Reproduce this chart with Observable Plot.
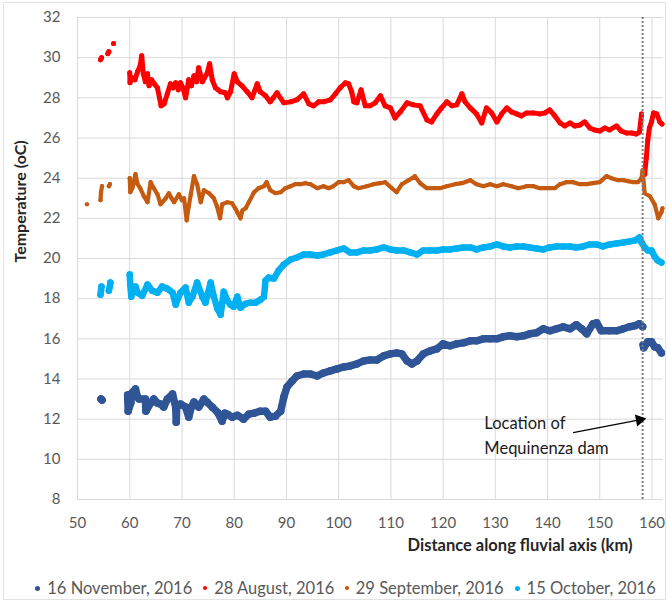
<!DOCTYPE html>
<html><head><meta charset="utf-8">
<script src="https://cdn.jsdelivr.net/npm/d3@7"></script>
<script src="https://cdn.jsdelivr.net/npm/@observablehq/plot@0.6"></script>
<style>
body{margin:0;background:#fff;font-family:Lato,sans-serif;}
#wrap{position:relative;width:668px;height:601px;overflow:hidden;}
#border{position:absolute;left:3px;top:2px;width:661px;height:596px;border:1px solid #e3e3e3;pointer-events:none;}
#legend{display:flex;align-items:center;justify-content:center;padding-left:34px;margin-top:10px;height:26px;font-size:16.5px;color:#595959;white-space:nowrap;}
#legend .it{display:flex;align-items:center;margin-right:11px;}
#legend .dot{display:inline-block;border-radius:50%;margin-right:7px;}
</style></head><body>
<div id="wrap"><div id="border"></div><div id="chart"></div><div id="legend"></div></div>
<script>
// ---- series (null = gap in the recorded track) ----
const seriesNames = ["16 November, 2016", "28 August, 2016", "29 September, 2016", "15 October, 2016"];
const seriesColors = ["#2f5597", "#ff0000", "#c55a11", "#00b0f0"];

const novKm = [54.5,54.7,null,
 59.6,59.7,60.2,60.4,61.1,61.5,61.8,63.0,63.1,64.0,64.6,65.3,65.9,66.5,67.2,68.2,68.8,68.9,69.0,69.7,70.7,71.3,71.8,72.3,73.2,74.2,74.8,75.8,76.8,77.7,78.2,78.7,79.6,80.6,81.8,82.8,83.8,85.0,86.0,86.9,87.9,88.9,89.5,90.1,91.1,92.0,93.3,94.6,95.9,97.1,98.4,99.7,101.0,102.2,103.5,104.8,106.0,107.3,108.6,109.9,111.1,112.1,113.1,114.0,115.0,116.2,117.5,118.8,120.0,121.3,122.6,123.9,125.2,126.4,127.7,129.0,130.3,131.5,132.8,134.1,135.4,136.6,137.9,139.2,140.4,141.7,143.0,144.3,145.5,146.5,147.5,148.7,149.4,150.3,151.9,153.2,154.5,155.7,156.7,157.6,158.2,null,
 158.3,158.4,159.2,159.9,160.5,161.1,161.8];
const novT = [13.0,12.95,null,
 13.2,12.4,12.8,13.3,13.5,13.1,13.0,13.0,12.4,12.8,13.0,12.8,12.75,12.6,13.0,13.25,12.6,11.85,12.6,12.75,12.6,12.1,12.6,12.85,12.6,13.0,12.85,12.6,12.35,11.9,12.3,12.25,12.1,12.2,12.0,12.25,12.3,12.4,12.4,12.1,12.15,12.4,13.1,13.6,13.9,14.15,14.25,14.25,14.15,14.3,14.4,14.5,14.6,14.65,14.75,14.9,14.95,14.95,15.15,15.25,15.3,15.25,14.9,14.75,14.9,15.25,15.4,15.5,15.75,15.65,15.75,15.8,15.9,15.9,16.0,16.0,16.0,16.1,16.15,16.1,16.15,16.25,16.3,16.5,16.4,16.5,16.6,16.5,16.7,16.5,16.25,16.75,16.8,16.4,16.4,16.4,16.5,16.6,16.65,16.75,16.6,null,
 15.7,15.55,15.85,15.85,15.6,15.55,15.3];

const augKm = [54.4,54.6,null,55.8,56.0,null,56.9,null,
 60.0,60.05,60.5,61.0,61.5,62.0,62.3,62.6,63.0,63.4,63.7,64.2,64.7,65.3,65.7,66.0,66.6,67.2,67.8,68.3,68.8,69.3,69.7,70.2,70.7,71.3,71.8,72.3,72.8,73.2,73.9,74.3,74.8,75.3,75.8,76.4,76.9,77.4,78.3,78.7,79.3,80.0,80.6,81.5,82.5,83.4,84.0,84.4,85.0,86.0,86.9,87.5,88.2,89.5,90.8,92.0,93.3,94.3,95.2,96.2,97.1,98.4,99.4,100.3,101.3,101.9,102.5,102.9,103.5,104.3,105.1,106.0,107.0,108.0,108.9,109.9,110.8,111.8,113.1,114.3,115.6,116.9,117.8,118.8,119.7,120.7,121.7,122.6,123.6,124.2,125.2,126.4,127.4,128.3,129.3,130.3,131.2,132.2,133.1,134.1,135.0,136.0,137.3,138.5,139.5,140.4,141.4,142.4,143.3,144.3,145.2,146.2,147.1,148.1,149.0,150.0,151.0,151.9,153.2,154.1,155.1,156.1,157.0,157.6,158.0,null,
 158.6,158.9,159.2,159.5,159.9,160.3,160.9,161.5,161.9];
const augT = [29.9,30.0,null,30.2,30.3,null,30.7,null,
 29.25,28.75,29.0,28.9,29.3,29.6,30.1,29.2,28.8,29.2,28.6,28.9,28.7,28.5,28.0,27.6,27.7,28.2,28.7,28.5,28.75,28.4,28.75,28.5,28.0,28.9,28.6,29.1,28.8,29.5,28.8,29.0,29.2,29.7,28.9,28.5,28.4,28.3,28.25,28.0,28.3,29.2,28.8,28.6,28.3,28.0,28.4,28.7,28.3,28.1,27.8,28.0,28.25,27.75,27.8,27.9,28.2,27.7,27.6,27.8,27.8,27.9,28.2,28.5,28.75,28.7,28.3,27.8,27.75,28.4,27.6,27.6,27.75,28.1,27.6,27.5,27.0,27.3,27.75,27.65,27.6,26.9,26.8,27.2,27.5,27.8,27.6,27.65,28.2,27.8,27.5,27.2,26.75,27.5,27.25,26.8,27.2,27.5,27.3,27.2,27.1,27.25,27.25,27.2,27.25,27.4,27.1,26.75,26.6,26.75,26.6,26.65,26.8,26.5,26.4,26.35,26.5,26.4,26.6,26.35,26.25,26.25,26.2,26.3,27.2,null,
 24.2,25.0,25.9,26.5,26.8,27.25,27.2,26.8,26.7];

const sepKm = [51.8,null,54.4,54.5,54.7,null,56.0,56.2,null,
 60.0,60.1,60.5,61.1,61.5,62.0,62.7,63.4,64.0,64.6,65.3,65.9,66.9,67.5,68.0,68.5,69.4,70.0,70.4,70.9,71.3,71.7,72.3,72.9,73.6,74.2,75.2,76.1,76.7,77.3,77.7,78.7,79.6,80.2,80.6,81.2,81.6,82.2,82.8,83.8,84.7,85.7,86.2,86.9,87.9,88.9,89.8,90.8,91.7,92.7,93.6,94.6,95.9,97.1,98.1,99.0,100.0,101.0,101.9,102.9,103.8,105.4,106.7,108.0,108.9,110.2,111.1,112.1,113.4,114.6,115.6,116.9,118.2,119.4,120.7,122.3,123.6,125.2,126.4,127.7,129.0,130.3,131.5,133.1,134.4,136.0,137.3,138.5,139.8,141.4,142.4,143.6,144.9,146.2,147.5,148.7,150.0,151.3,152.2,153.5,154.5,155.4,156.4,157.3,158.0,158.2,158.6,159.6,160.5,161.2,161.8,162.0];
const sepT = [22.7,null,22.9,23.3,23.6,null,23.6,23.7,null,
 24.0,23.3,23.5,24.2,23.7,23.5,23.1,22.8,23.8,23.5,23.2,22.7,23.0,23.25,23.0,22.8,23.2,22.9,23.0,21.9,22.6,23.2,24.1,23.7,22.8,23.4,23.25,23.0,22.6,22.0,22.7,22.8,22.75,22.5,22.3,22.0,22.4,22.5,22.8,23.3,23.5,23.6,23.8,23.4,23.25,23.3,23.5,23.6,23.7,23.7,23.75,23.7,23.5,23.6,23.5,23.6,23.8,23.8,23.9,23.6,23.5,23.6,23.7,23.75,23.8,23.5,23.3,23.7,23.9,24.1,23.75,23.5,23.5,23.5,23.6,23.7,23.75,23.9,23.7,23.6,23.7,23.6,23.7,23.6,23.5,23.6,23.6,23.5,23.5,23.5,23.7,23.8,23.8,23.7,23.7,23.75,23.8,24.1,24.0,23.9,23.9,23.85,23.8,23.8,24.0,24.4,23.25,23.1,22.7,22.0,22.3,22.5];

const octKm = [54.4,54.5,54.6,null,56.0,56.2,56.3,null,
 60.0,60.1,60.3,60.6,61.1,61.5,62.4,63.4,64.3,65.3,66.2,67.2,68.2,68.8,69.7,70.7,71.3,72.0,72.9,73.9,74.5,75.5,76.1,76.8,77.4,78.0,78.7,79.3,79.9,80.6,81.2,82.2,83.1,84.1,85.0,85.7,86.0,86.6,87.6,88.5,89.5,90.8,92.0,93.3,94.6,95.9,97.1,98.4,99.7,101.0,102.2,103.5,104.8,106.0,107.3,108.6,109.9,111.1,112.4,113.7,115.0,116.2,117.5,118.8,120.0,121.3,122.6,123.9,125.2,126.4,127.7,129.0,130.3,131.5,132.8,134.1,135.4,136.6,137.9,139.2,140.4,141.7,143.0,144.3,145.5,146.8,148.1,149.4,150.6,151.9,153.2,154.5,155.7,156.7,157.6,158.0,158.6,159.2,159.9,160.5,161.1,161.8];
const octT = [18.2,18.4,18.6,null,18.4,18.6,18.8,null,
 19.2,18.7,18.1,18.5,18.6,18.3,18.15,18.7,18.4,18.3,18.6,18.5,18.3,17.7,18.3,18.55,17.8,18.1,18.8,18.1,17.8,18.8,18.1,17.5,17.2,18.35,17.9,17.7,17.6,18.1,17.55,17.75,17.8,17.8,17.95,18.1,18.9,19.05,19.0,19.4,19.7,19.95,20.05,20.2,20.2,20.15,20.2,20.3,20.4,20.5,20.3,20.3,20.4,20.4,20.45,20.55,20.45,20.4,20.4,20.3,20.2,20.4,20.4,20.4,20.45,20.45,20.5,20.55,20.55,20.45,20.55,20.6,20.7,20.6,20.55,20.6,20.6,20.55,20.5,20.45,20.55,20.6,20.6,20.6,20.55,20.6,20.7,20.7,20.6,20.7,20.75,20.8,20.85,20.9,21.05,20.8,20.55,20.4,20.4,20.1,19.9,19.8];

// ---- axes ----
const xTicks = [50,60,70,80,90,100,110,120,130,140,150,160];
const yTicks = [8,10,12,14,16,18,20,22,24,26,28,30,32];
const xTitle = "Distance along fluvial axis (km)";
const yTitle = "Temperature (oC)";

// ---- annotation ----
const damKm = 158.2;
const noteLines = ["Location of", "Mequinenza dam"];
const noteKm = [127.9, 127.9];
const noteT = [11.78, 10.54];
const arrowKm = [144.9, 157.6];
const arrowT = [11.33, 11.97];

// ---- build rows ----
const kmArrays = [novKm, augKm, sepKm, octKm];
const tArrays = [novT, augT, sepT, octT];
const widths = [7.5, 5, 4.2, 6.5];
const rows = [];
seriesNames.forEach((s, i) => {
  kmArrays[i].forEach((km, j) => rows.push({series: s, km, t: tArrays[i][j]}));
});

const seriesMarks = seriesNames.flatMap((s, i) => {
  const d = rows.filter(r => r.series === s);
  return [
    Plot.line(d, {x: "km", y: "t", stroke: seriesColors[i], strokeWidth: widths[i], strokeLinecap: "round", strokeLinejoin: "round"}),
    Plot.dot(d, {x: "km", y: "t", fill: seriesColors[i], r: widths[i] / 2, stroke: "none"})
  ];
});

const notes = noteLines.map((s, i) => ({s, km: noteKm[i], t: noteT[i]}));
const arrow = [{x1: arrowKm[0], y1: arrowT[0], x2: arrowKm[1], y2: arrowT[1]}];

const chart = Plot.plot({
  width: 668, height: 565,
  marginTop: 17, marginBottom: 66, marginLeft: 77, marginRight: 5,
  x: {domain: [50, 162.2]},
  y: {domain: [8, 32]},
  style: {fontFamily: "Lato, sans-serif", fontSize: "15px", color: "#595959", background: "transparent", overflow: "visible"},
  marks: [
    Plot.ruleY(yTicks, {stroke: "#d9d9d9", strokeWidth: 1}),
    Plot.ruleX(xTicks, {stroke: "#d9d9d9", strokeWidth: 1}),
    Plot.axisX(xTicks, {tickSize: 0, tickPadding: 18, label: null, fill: "#595959", fontSize: 15}),
    Plot.axisY(yTicks, {tickSize: 0, tickPadding: 17, label: null, fill: "#595959", fontSize: 15}),
    ...seriesMarks,
    Plot.ruleX([damKm], {stroke: "#7f7f7f", strokeWidth: 2, strokeDasharray: "2,2"}),
    Plot.link(arrow, {x1: "x1", y1: "y1", x2: "x2", y2: "y2", stroke: "#000", strokeWidth: 1.3}),
    Plot.dot(arrow, {x: "x2", y: "y2", symbol: "triangle", r: 4.5, fill: "#000", stroke: "none", rotate: 79}),
    Plot.text(notes, {x: "km", y: "t", text: "s", textAnchor: "start", fill: "#1a1a1a", fontSize: 16.5}),
    Plot.text([yTitle], {frameAnchor: "left", dx: -57, dy: 4, rotate: -90, fontWeight: "bold", fontSize: 16, fill: "#262626"}),
    Plot.text([xTitle], {frameAnchor: "bottom-right", textAnchor: "end", dx: -31, dy: 51, fontWeight: "bold", fontSize: 16.5, fill: "#262626"})
  ]
});
document.getElementById("chart").appendChild(chart);

// ---- legend ----
const dotSizes = [5, 4, 3.5, 5];
const legend = document.getElementById("legend");
seriesNames.forEach((s, i) => {
  const it = document.createElement("span");
  it.className = "it";
  const dot = document.createElement("span");
  dot.className = "dot";
  dot.style.width = dot.style.height = dotSizes[i] + "px";
  dot.style.background = seriesColors[i];
  it.appendChild(dot);
  it.appendChild(document.createTextNode(s));
  legend.appendChild(it);
});
</script>
</body></html>
